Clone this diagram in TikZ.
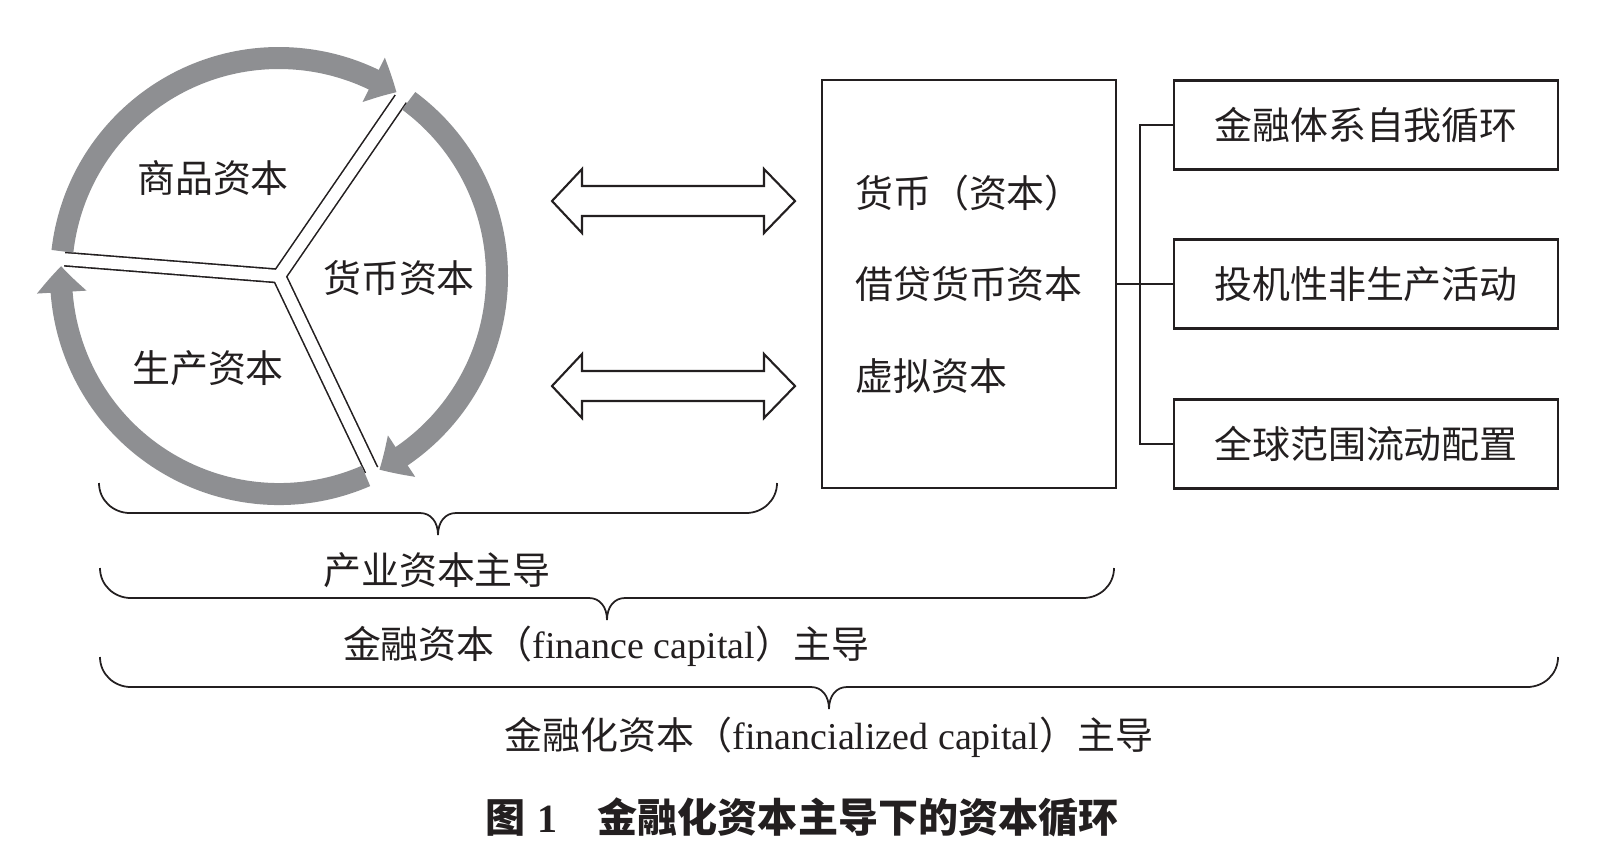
\documentclass[tikz,border=0pt]{standalone}
\usepackage{fontspec}
\setmainfont{Liberation Serif}
\newfontfamily\cjk{Noto Sans CJK SC}
\usetikzlibrary{arrows.meta,bending,positioning}
\definecolor{ringgray}{HTML}{8E8F92}
\definecolor{inkblack}{HTML}{231F20}

\begin{document}
\begin{tikzpicture}[x=0.1mm, y=0.1mm,
    txt/.style={inkblack, inner sep=0pt, font=\fontsize{10.8}{13}\selectfont},
    box/.style={draw, inkblack, line width=0.6pt, inner sep=0pt, font=\cjk\fontsize{10.8}{13}\selectfont},
    link/.style={inkblack, line width=0.6pt},
    ring/.style={ringgray, line width=2.2mm, -{Triangle[length=2.6mm, width=4.8mm, bend]}},
    dblarrow/.style={draw, inkblack, line width=0.6pt, line join=miter},
    brace/.style={inkblack, line width=0.5pt}]
    \useasboundingbox (0,0) rectangle (1624,-864);

    % capital circuit
    \coordinate (C) at (279,-276);
    \foreach \a in {55.5,175.5,295.5}
      \draw[inkblack, line width=1.5mm] (C) -- ++(\a:215);
    \foreach \a in {55.5,175.5,295.5}
      \draw[white, line width=1.18mm] (C) -- ++(\a:217);
    \draw[ring] ([shift={(C)}]173.5:218) arc[start angle=173.5, end angle=57.4, radius=218];
    \draw[ring] ([shift={(C)}]53.5:218) arc[start angle=53.5, end angle=-62.6, radius=218];
    \draw[ring] ([shift={(C)}]293.5:218) arc[start angle=293.5, end angle=177.4, radius=218];

    \node[txt] (comm) at (213,-178) {\cjk 商品资本};
    \node[txt] (mcap) at (399,-278) {\cjk 货币资本};
    \node[txt] (prod) at (208,-368) {\cjk 生产资本};

    % double arrows
    \foreach \yc in {201,386}
      \draw[dblarrow] (552,-\yc) -- (582,-\yc+32) -- (582,-\yc+15) -- (764,-\yc+15) -- (764,-\yc+32)
        -- (795,-\yc) -- (764,-\yc-32) -- (764,-\yc-15) -- (582,-\yc-15) -- (582,-\yc-32) -- cycle;

    % money box and its three outlets
    \node[box, minimum width=29.4mm, minimum height=40.8mm, align=left,
          font=\cjk\fontsize{10.8}{26}\selectfont] (money) at (969,-284)
          {货币（资本）\\借贷货币资本\\虚拟资本};
    \node[box, minimum width=38.4mm, minimum height=8.9mm] (self) at (1366,-125) {金融体系自我循环};
    \node[box, minimum width=38.4mm, minimum height=8.9mm] (spec) at (1366,-284) {投机性非生产活动};
    \node[box, minimum width=38.4mm, minimum height=8.9mm] (glob) at (1366,-444) {全球范围流动配置};

    \coordinate (bus) at (1140,-284);
    \draw[link] (money.east) -- (spec.west);
    \draw[link] (self.west) -| (bus) |- (glob.west);

    % braces
    \foreach \xa/\xb/\xt/\yh in {99/777/438/513, 100/1114/607/598, 100/1558/829/687}
      \draw[brace] (\xa,-\yh+30) .. controls (\xa,-\yh+13) and (\xa+14,-\yh) .. (\xa+31,-\yh)
        -- (\xt-18,-\yh) .. controls (\xt-7,-\yh) and (\xt,-\yh-9) .. (\xt,-\yh-22)
        .. controls (\xt,-\yh-9) and (\xt+7,-\yh) .. (\xt+18,-\yh)
        -- (\xb-31,-\yh) .. controls (\xb-14,-\yh) and (\xb,-\yh+13) .. (\xb,-\yh+30);

    \node[txt] (ind) at (437,-570) {\cjk 产业资本主导};
    \node[txt] (fin) at (606,-646) {{\cjk 金融资本（}finance capital{\cjk ）主导}};
    \node[txt] (fzd) at (829,-737) {{\cjk 金融化资本（}financialized capital{\cjk ）主导}};

    \node[txt, font=\fontsize{11.4}{14}\selectfont\bfseries] (cap) at (802,-817)
      {{\cjk 图}\hspace{0.3em}1\hspace{1em}{\cjk 金融化资本主导下的资本循环}};
\end{tikzpicture}
\end{document}
